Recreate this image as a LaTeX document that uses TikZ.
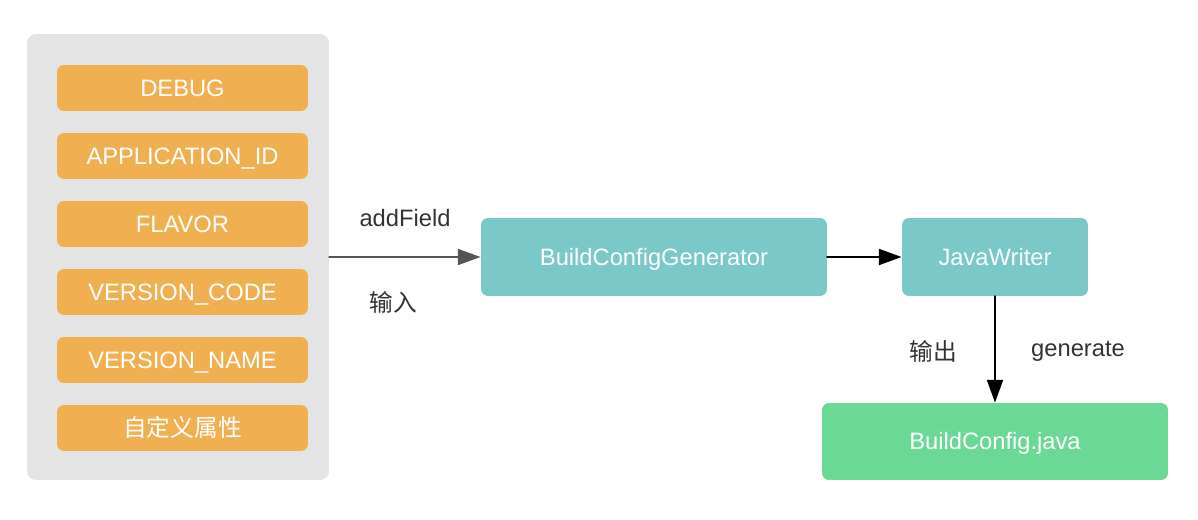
\documentclass[tikz,border=0pt]{standalone}
\usepackage{fontspec}
\setmainfont{Liberation Sans}
\newfontfamily\cjk{Noto Sans CJK SC}
\usepackage{tikz}
\usetikzlibrary{arrows.meta}
\definecolor{panelgray}{HTML}{E4E4E4}
\definecolor{fieldorange}{HTML}{F0B052}
\definecolor{toolteal}{HTML}{7BC8C9}
\definecolor{outgreen}{HTML}{6CD896}
\definecolor{labelgray}{HTML}{333333}
\definecolor{arrowgray}{HTML}{555555}

\begin{document}
\begin{tikzpicture}[line cap=round,line join=round,>={Triangle[length=13pt,width=9pt]},x=0.02cm,y=-0.02cm,
    field/.style={fill=fieldorange,rounded corners=4pt,minimum width=5.02cm,minimum height=0.92cm,text=white,text height=11pt,text depth=1.5pt,font=\fontsize{13.5}{15}\selectfont},
    tool/.style={fill=toolteal,rounded corners=4pt,minimum height=1.56cm,text=white,text height=11pt,text depth=1.5pt,font=\fontsize{13.5}{15}\selectfont},
    lbl/.style={text=labelgray,font=\fontsize{13.5}{15}\selectfont}]
        \useasboundingbox (0,0) rectangle (1198,520);
        \node (panel) [fill=panelgray,rounded corners=5pt,minimum width=6.04cm,minimum height=8.92cm] at (178,257) {};
        \node (debug) [field] at (182.5,88) {DEBUG};
        \node (appid) [field] at (182.5,156) {APPLICATION\_ID};
        \node (flavor) [field] at (182.5,224) {FLAVOR};
        \node (vcode) [field] at (182.5,292) {VERSION\_CODE};
        \node (vname) [field] at (182.5,360) {VERSION\_NAME};
        \node (custom) [field] at (182.5,428) {\cjk 自定义属性};
        \node (gen) [tool,minimum width=6.92cm] at (654,257) {BuildConfigGenerator};
        \node (writer) [tool,minimum width=3.72cm] at (995,257) {JavaWriter};
        \node (out) [fill=outgreen,rounded corners=4pt,minimum width=6.92cm,minimum height=1.54cm,text=white,text height=11pt,text depth=1.5pt,font=\fontsize{13.5}{15}\selectfont] at (995,441.5) {BuildConfig.java};
        \draw [->,color=arrowgray,line width=1.3pt] (panel.east) -- (gen.west);
        \draw [->,color=black,line width=1.5pt] (gen.east) -- (writer.west);
        \draw [->,color=black,line width=1.5pt] (writer.south) -- (out.north);
        \node (addfield) [lbl] at (405,218) {addField};
        \node (input) [lbl] at (393,302) {\cjk 输入};
        \node (output) [lbl] at (933,351) {\cjk 输出};
        \node (generate) [lbl] at (1078,351) {generate};
\end{tikzpicture}
\end{document}
